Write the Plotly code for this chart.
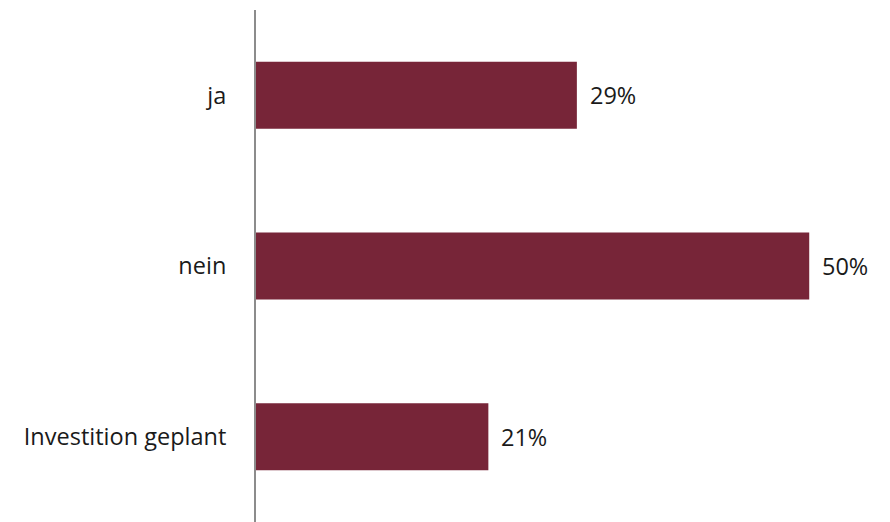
import plotly.graph_objects as go

categories = ["ja", "nein", "Investition geplant"]
values = [29, 50, 21]
value_labels = ["29%", "50%", "21%"]

BAR_COLOR = "#772538"
FONT = "Open Sans"

fig = go.Figure(
    go.Bar(
        y=categories,
        x=values,
        orientation="h",
        width=0.393,
        marker=dict(color=BAR_COLOR, line=dict(width=0)),
        hoverinfo="skip",
    )
)

for cat, val, lab in zip(categories, values, value_labels):
    fig.add_annotation(
        x=val, y=cat, text=lab, showarrow=False,
        xanchor="left", yanchor="middle", xshift=11,
        font=dict(family=FONT, size=23.5, color="#1a1a1a"),
    )

fig.update_layout(
    width=890, height=522,
    margin=dict(l=256, r=0, t=10, b=0),
    paper_bgcolor="white", plot_bgcolor="white",
    showlegend=False,
    xaxis=dict(range=[0, 57.3], visible=False, fixedrange=True),
    yaxis=dict(
        autorange=False, range=[2.5, -0.5],
        showline=True, linecolor="#8c8c8c", linewidth=2,
        showgrid=False, zeroline=False, ticks="",
        ticklabelstandoff=23,
        tickfont=dict(family=FONT, size=23.5, color="#1a1a1a"),
    ),
)

fig.write_html("out.html")
